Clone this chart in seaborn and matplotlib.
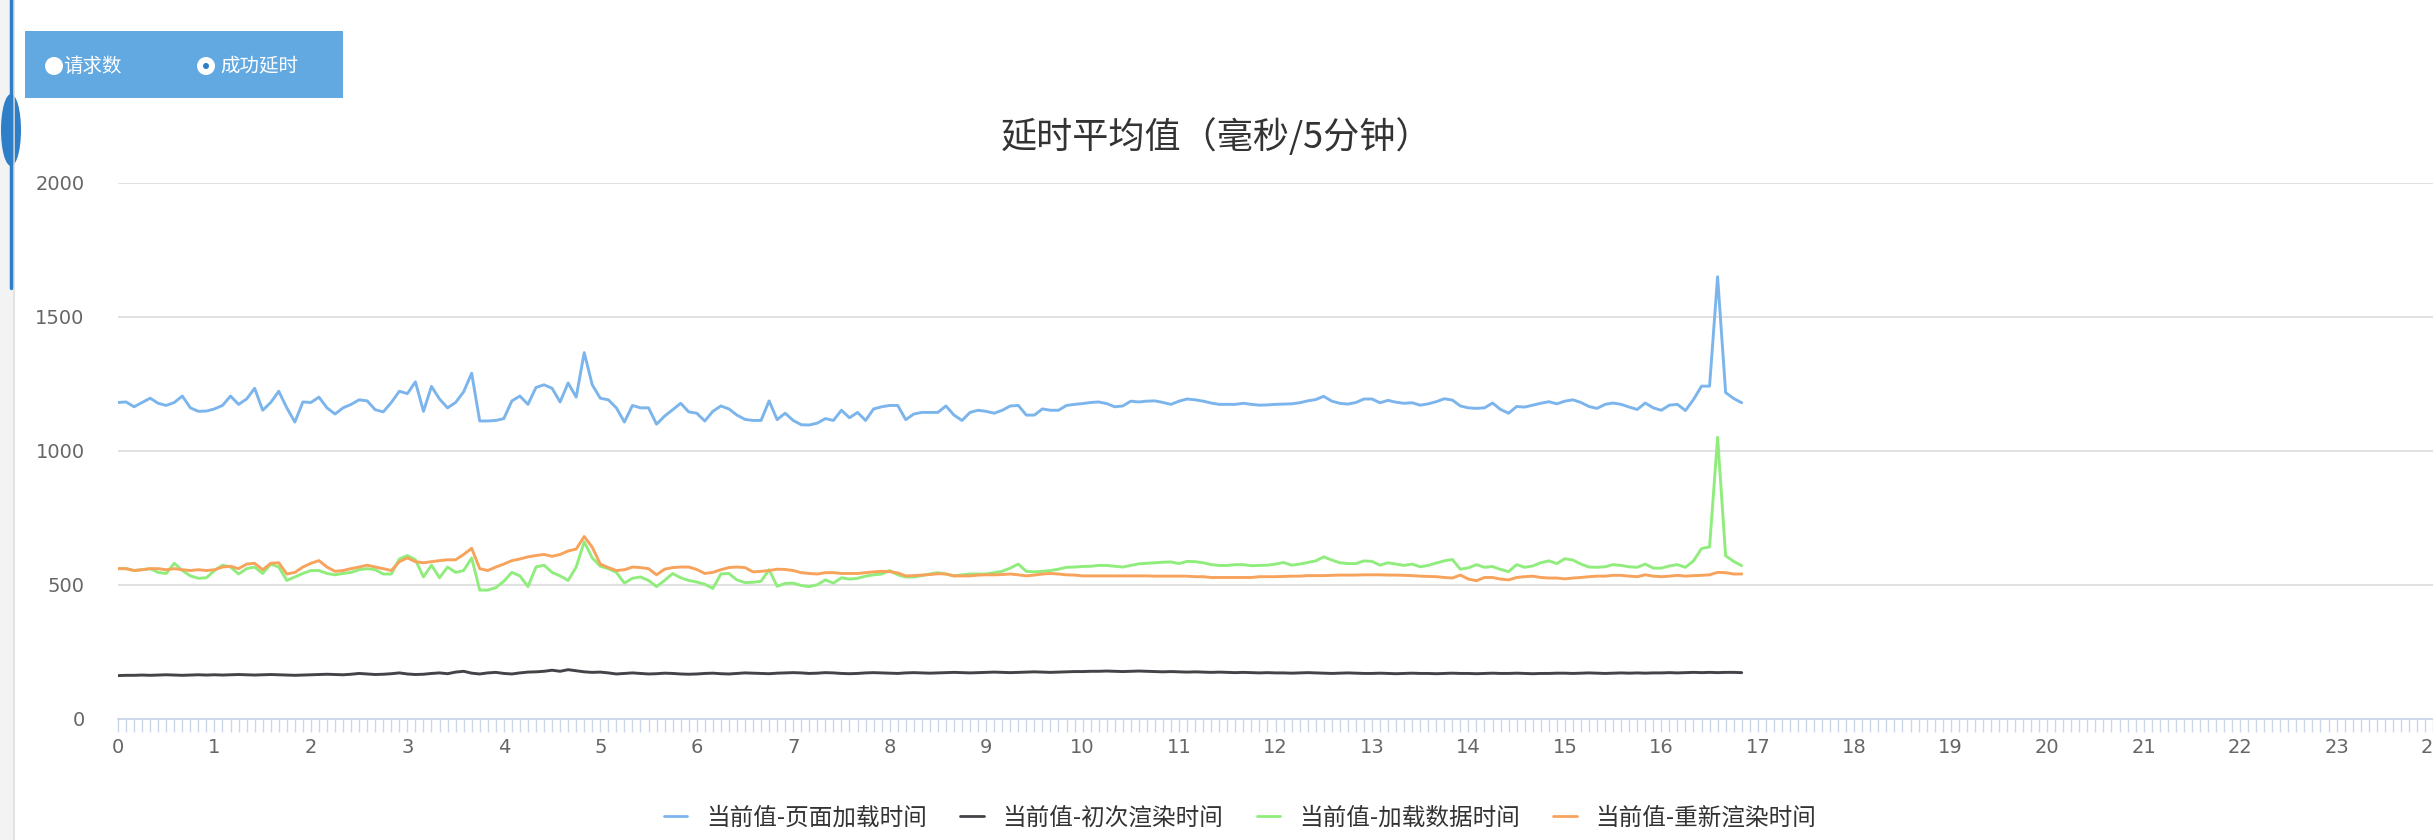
import numpy as np
import pandas as pd
import matplotlib
matplotlib.use("Agg")
import matplotlib.pyplot as plt
import matplotlib.patches as mpatches
import seaborn as sns

W, H = 2433, 840

series_names = ["当前值-页面加载时间", "当前值-初次渲染时间", "当前值-加载数据时间", "当前值-重新渲染时间"]
series_colors = ["#7cb5ec", "#434348", "#90ed7d", "#f7a35c"]
chart_title = "延时平均值（毫秒/5分钟）"
y_ticks = [0, 500, 1000, 1500, 2000]
x_ticks = list(range(0, 25))

# one value every 5 minutes, one row per hour
page_load = [
    1181, 1183, 1165, 1181, 1197, 1178, 1170, 1181, 1205, 1161, 1148, 1149,
    1157, 1170, 1205, 1174, 1194, 1234, 1152, 1181, 1223, 1161, 1108, 1183,
    1181, 1201, 1161, 1138, 1161, 1174, 1191, 1187, 1154, 1146, 1181, 1223,
    1214, 1258, 1148, 1241, 1194, 1161, 1181, 1221, 1290, 1112, 1112, 1114,
    1121, 1187, 1205, 1174, 1237, 1247, 1234, 1183, 1254, 1201, 1367, 1247,
    1197, 1191, 1161, 1108, 1170, 1161, 1161, 1100, 1130, 1154, 1178, 1146,
    1141, 1112, 1148, 1168, 1157, 1134, 1118, 1114, 1114, 1187, 1117, 1141,
    1114, 1098, 1097, 1104, 1121, 1114, 1152, 1124, 1144, 1114, 1157, 1165,
    1170, 1170, 1117, 1138, 1144, 1144, 1144, 1168, 1134, 1114, 1144, 1152,
    1148, 1141, 1152, 1168, 1170, 1134, 1134, 1157, 1152, 1152, 1170, 1174,
    1177, 1181, 1183, 1177, 1165, 1168, 1186, 1183, 1186, 1187, 1181, 1174,
    1186, 1194, 1191, 1186, 1179, 1174, 1174, 1174, 1178, 1174, 1171, 1172,
    1174, 1175, 1176, 1180, 1187, 1192, 1204, 1186, 1178, 1175, 1181, 1194,
    1194, 1180, 1189, 1182, 1178, 1180, 1171, 1176, 1184, 1195, 1190, 1168,
    1161, 1159, 1161, 1179, 1155, 1141, 1166, 1164, 1171, 1178, 1184, 1176,
    1186, 1191, 1181, 1166, 1159, 1174, 1179, 1174, 1164, 1155, 1179, 1161,
    1152, 1171, 1174, 1151, 1192, 1242, 1242, 1650, 1218, 1196, 1180,
]

first_render = [
    162, 163, 163, 164, 163, 164, 165, 164, 163, 164, 165, 164,
    165, 164, 165, 166, 165, 164, 165, 166, 165, 164, 163, 164,
    165, 166, 167, 166, 165, 167, 170, 168, 166, 167, 169, 172,
    168, 166, 167, 170, 172, 169, 175, 178, 171, 168, 172, 174,
    170, 168, 172, 175, 176, 178, 182, 178, 184, 180, 176, 174,
    175, 172, 168, 170, 172, 170, 168, 169, 171, 170, 168, 167,
    168, 170, 171, 169, 168, 170, 172, 171, 170, 169, 171, 172,
    173, 172, 170, 171, 173, 172, 170, 169, 170, 172, 173, 172,
    171, 170, 172, 173, 172, 171, 172, 173, 174, 173, 172, 173,
    174, 175, 174, 173, 174, 175, 176, 175, 174, 175, 176, 177,
    177, 178, 178, 179, 178, 177, 178, 179, 178, 177, 176, 177,
    176, 175, 176, 175, 174, 175, 174, 173, 174, 173, 172, 173,
    172, 172, 171, 172, 173, 172, 171, 170, 171, 172, 171, 170,
    170, 171, 170, 169, 170, 171, 170, 170, 169, 170, 171, 170,
    170, 169, 170, 171, 170, 170, 171, 170, 169, 170, 170, 171,
    171, 170, 171, 172, 171, 170, 171, 172, 171, 172, 171, 172,
    172, 173, 172, 173, 174, 173, 174, 173, 174, 174, 173,
]

load_data = [
    561, 561, 554, 557, 561, 547, 543, 581, 554, 534, 525, 527,
    554, 574, 567, 541, 561, 567, 543, 578, 567, 517, 530, 543,
    554, 554, 543, 538, 543, 547, 557, 561, 557, 541, 541, 597,
    610, 594, 530, 574, 527, 567, 547, 554, 601, 481, 481, 490,
    514, 547, 534, 494, 567, 574, 547, 534, 517, 567, 661, 601,
    570, 561, 547, 507, 525, 530, 517, 494, 517, 543, 527, 517,
    511, 503, 487, 541, 543, 519, 509, 510, 514, 557, 495, 506,
    507, 498, 494, 501, 519, 507, 527, 522, 525, 533, 538, 541,
    554, 538, 530, 530, 535, 541, 546, 541, 534, 538, 541, 541,
    541, 546, 551, 563, 578, 551, 549, 551, 554, 559, 566, 567,
    569, 570, 573, 573, 570, 567, 573, 579, 581, 583, 585, 586,
    580, 588, 587, 583, 576, 573, 573, 576, 576, 572, 573, 574,
    578, 584, 574, 578, 584, 590, 605, 593, 583, 580, 580, 590,
    588, 574, 583, 578, 573, 578, 568, 573, 582, 590, 595, 559,
    564, 576, 566, 569, 558, 550, 576, 566, 571, 583, 590, 580,
    598, 593, 578, 567, 566, 568, 576, 573, 568, 566, 578, 563,
    563, 571, 576, 566, 590, 636, 642, 1051, 609, 588, 572,
]

re_render = [
    561, 561, 554, 557, 561, 561, 557, 561, 557, 554, 557, 554,
    557, 567, 570, 561, 578, 581, 557, 581, 583, 541, 547, 567,
    581, 591, 567, 551, 554, 561, 567, 574, 567, 561, 554, 587,
    601, 587, 583, 587, 591, 594, 594, 614, 637, 561, 554, 567,
    578, 591, 597, 605, 610, 614, 607, 614, 627, 634, 681, 641,
    578, 565, 554, 557, 567, 565, 561, 538, 559, 565, 567, 567,
    558, 543, 547, 557, 565, 567, 565, 549, 551, 554, 559, 558,
    554, 546, 543, 541, 546, 546, 543, 543, 543, 546, 549, 551,
    550, 545, 534, 535, 537, 539, 542, 541, 534, 534, 534, 537,
    538, 538, 539, 541, 538, 534, 537, 541, 543, 541, 538, 537,
    534, 534, 534, 534, 534, 534, 534, 534, 534, 533, 533, 533,
    533, 533, 531, 531, 528, 528, 528, 528, 528, 528, 531, 531,
    531, 532, 533, 533, 535, 535, 535, 536, 537, 537, 537, 538,
    538, 538, 537, 537, 536, 535, 533, 532, 531, 528, 526, 537,
    522, 516, 528, 528, 522, 519, 528, 531, 533, 528, 526, 526,
    523, 526, 528, 531, 533, 533, 536, 536, 533, 531, 538, 533,
    531, 533, 536, 533, 535, 536, 538, 547, 546, 541, 541,
]

frames = []
for name, vals in zip(series_names, [page_load, first_render, load_data, re_render]):
    frames.append(pd.DataFrame({"hour": np.arange(len(vals)) / 12.0, "value": vals, "series": name}))
df = pd.concat(frames, ignore_index=True)

sns.set_style("white")
plt.rcParams["font.family"] = ["Noto Sans CJK SC", "DejaVu Sans"]

fig = plt.figure(figsize=(W / 100, H / 100), dpi=100)
fig.patch.set_facecolor("white")


def fx(x):
    return x / W


def fy(y):
    return 1 - y / H


ax = fig.add_axes([fx(118), fy(719), 1 - fx(118), (719 - 183) / H])
sns.lineplot(data=df, x="hour", y="value", hue="series", hue_order=series_names,
             palette=series_colors, linewidth=2.1, ax=ax, legend=False)

ax.set_xlim(0, 24)
ax.set_ylim(0, 2000)
ax.set_xticks(x_ticks)
ax.set_xticks(np.arange(0, 24.001, 1 / 12), minor=True)
ax.set_yticks(y_ticks)
ax.set_xlabel("")
ax.set_ylabel("")
ax.yaxis.grid(True, color="#dedede", linewidth=1.3)
ax.set_axisbelow(True)
for s in ["top", "right", "left"]:
    ax.spines[s].set_visible(False)
ax.spines["bottom"].set_color("#ccd6eb")
ax.spines["bottom"].set_linewidth(1.3)
ax.tick_params(axis="x", which="both", bottom=True, length=9, width=1, color="#ccd6eb",
               direction="out")
ax.tick_params(axis="x", which="major", labelsize=14, labelcolor="#666666", pad=5)
ax.tick_params(axis="y", length=0, labelsize=14, labelcolor="#666666", pad=24)
for lab in ax.get_xticklabels() + ax.get_yticklabels():
    lab.set_family("DejaVu Sans")

fig.text(0.5, fy(137), chart_title, ha="center", va="center", fontsize=26, color="#333333")

handles = [plt.Line2D([], [], color=c, linewidth=2) for c in series_colors]
fig.legend(handles, series_names, loc="center", bbox_to_anchor=(fx(1240), fy(818)), ncol=4,
           frameon=False, fontsize=17, handlelength=1.0, handletextpad=0.8,
           columnspacing=1.4, labelcolor="#333333")

# left side panel bits and the toggle box
fig.add_artist(mpatches.Rectangle((0, 0), fx(13), 1, transform=fig.transFigure,
                                  facecolor="#f3f3f3", edgecolor="none"))
fig.add_artist(plt.Line2D([fx(14), fx(14)], [0, 1], transform=fig.transFigure,
                          color="#dddddd", linewidth=1.2))
fig.add_artist(plt.Line2D([fx(11), fx(11)], [fy(288), 1], transform=fig.transFigure,
                          color="#2f7fc8", linewidth=2.5))
fig.add_artist(mpatches.Ellipse((fx(11), fy(130)), 2 * 10 / W, 2 * 36 / H,
                                transform=fig.transFigure, facecolor="#2f7fc8", edgecolor="none"))
fig.add_artist(mpatches.Rectangle((fx(25), fy(98)), fx(318), 67 / H, transform=fig.transFigure,
                                  facecolor="#63a9e1", edgecolor="none"))
fig.add_artist(mpatches.Ellipse((fx(54), fy(66)), 2 * 9 / W, 2 * 9 / H, transform=fig.transFigure,
                                facecolor="white", edgecolor="none"))
fig.text(fx(63), fy(66), "请求数", ha="left", va="center", fontsize=14, color="white")
fig.add_artist(mpatches.Ellipse((fx(206), fy(66)), 2 * 9 / W, 2 * 9 / H, transform=fig.transFigure,
                                facecolor="white", edgecolor="none"))
fig.add_artist(mpatches.Ellipse((fx(206), fy(66)), 2 * 3 / W, 2 * 3 / H, transform=fig.transFigure,
                                facecolor="#2f7fc8", edgecolor="none"))
fig.text(fx(220), fy(66), "成功延时", ha="left", va="center", fontsize=14, color="white")

fig.savefig("out.png", dpi=100)
